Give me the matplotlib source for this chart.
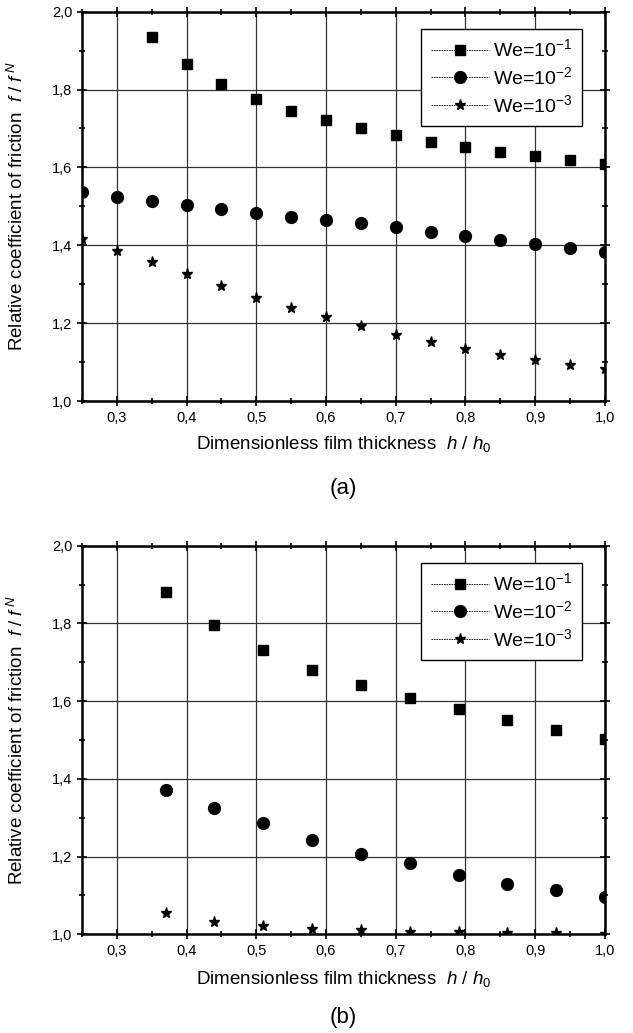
import matplotlib
matplotlib.use('Agg')
import matplotlib.pyplot as plt
from matplotlib.ticker import MultipleLocator, FuncFormatter

plt.rcParams['font.family'] = ['Liberation Sans', 'DejaVu Sans']
plt.rcParams['mathtext.fontset'] = 'custom'
plt.rcParams['mathtext.rm'] = 'Liberation Sans'
plt.rcParams['mathtext.it'] = 'Liberation Sans:italic'

# (a) film thickness h/h0
h_a = [0.25, 0.30, 0.35, 0.40, 0.45, 0.50, 0.55, 0.60, 0.65, 0.70,
       0.75, 0.80, 0.85, 0.90, 0.95, 1.00]
h_a_sq = h_a[2:]
we1_a = [1.935, 1.866, 1.815, 1.776, 1.745, 1.721, 1.700, 1.682,
         1.666, 1.653, 1.640, 1.630, 1.619, 1.608]
we2_a = [1.538, 1.524, 1.514, 1.504, 1.494, 1.483, 1.473, 1.465, 1.456,
         1.446, 1.435, 1.425, 1.414, 1.403, 1.393, 1.382]
we3_a = [1.417, 1.386, 1.356, 1.325, 1.295, 1.265, 1.238, 1.215, 1.193,
         1.169, 1.152, 1.133, 1.117, 1.105, 1.092, 1.081]

# (b)
h_b = [0.37, 0.44, 0.51, 0.58, 0.65, 0.72, 0.79, 0.86, 0.93, 1.00]
we1_b = [1.882, 1.795, 1.731, 1.681, 1.641, 1.607, 1.579, 1.551, 1.526, 1.503]
we2_b = [1.372, 1.325, 1.286, 1.244, 1.208, 1.183, 1.154, 1.130, 1.115, 1.097]
we3_b = [1.056, 1.033, 1.022, 1.013, 1.010, 1.007, 1.005, 1.003, 1.003, 1.001]

labels = ['We=10$^{-1}$', 'We=10$^{-2}$', 'We=10$^{-3}$']

comma = FuncFormatter(lambda v, p: f'{v:.1f}'.replace('.', ','))

fig = plt.figure(figsize=(6.33, 10.33), dpi=100)
ax_a = fig.add_axes([0.1295, 0.6118, 0.8262, 0.3769])
ax_b = fig.add_axes([0.1295, 0.0955, 0.8262, 0.3762])


def draw(ax, xs1, y1, xs, y2, y3, xlab_y):
    ax.plot(xs1, y1, linestyle='none', marker='s', ms=7.5, color='black',
            label=labels[0], zorder=5)
    ax.plot(xs, y2, linestyle='none', marker='o', ms=8.5, color='black',
            label=labels[1], zorder=5)
    ax.plot(xs, y3, linestyle='none', marker='*', ms=8, color='black',
            label=labels[2], zorder=5)
    ax.set_xlim(0.25, 1.0)
    ax.set_ylim(1.0, 2.0)
    ax.xaxis.set_major_locator(MultipleLocator(0.1))
    ax.xaxis.set_minor_locator(MultipleLocator(0.05))
    ax.yaxis.set_major_locator(MultipleLocator(0.2))
    ax.yaxis.set_minor_locator(MultipleLocator(0.1))
    ax.xaxis.set_major_formatter(comma)
    ax.yaxis.set_major_formatter(comma)
    ax.grid(True, which='major', color='#333333', linewidth=0.9)
    ax.set_axisbelow(True)
    for s in ax.spines.values():
        s.set_linewidth(1.8)
    ax.tick_params(which='both', direction='inout', top=True, right=True,
                   labelsize=10.5, width=1.2)
    ax.tick_params(which='major', length=7)
    ax.tick_params(which='minor', length=5)
    ax.set_xlabel('Dimensionless film thickness  $h$ / $h_0$', fontsize=13.5)
    ax.set_ylabel('Relative coefficient of friction  $f$ / $f^{\\,N}$', fontsize=13.5)
    ax.xaxis.set_label_coords(0.5, xlab_y)
    ax.yaxis.set_label_coords(-0.105, 0.5)

    leg = ax.legend(loc='upper right', bbox_to_anchor=(0.956, 0.956),
                    borderaxespad=0, fancybox=False, framealpha=1,
                    edgecolor='black', fontsize=14, handlelength=3.0,
                    handletextpad=0.2, labelspacing=0.3, borderpad=0.5)
    leg.get_frame().set_linewidth(1.0)
    for line in leg.get_lines():
        line.set_linestyle((0, (2, 1)))
        line.set_linewidth(0.6)
        line.set_color('black')


draw(ax_a, h_a_sq, we1_a, h_a, we2_a, we3_a, -0.085)
draw(ax_b, h_b, we1_b, h_b, we2_b, we3_b, -0.09)

fig.text(0.543, 0.527, '(a)', ha='center', va='center', fontsize=16)
fig.text(0.543, 0.015, '(b)', ha='center', va='center', fontsize=16)

fig.savefig('out.png', dpi=100)
